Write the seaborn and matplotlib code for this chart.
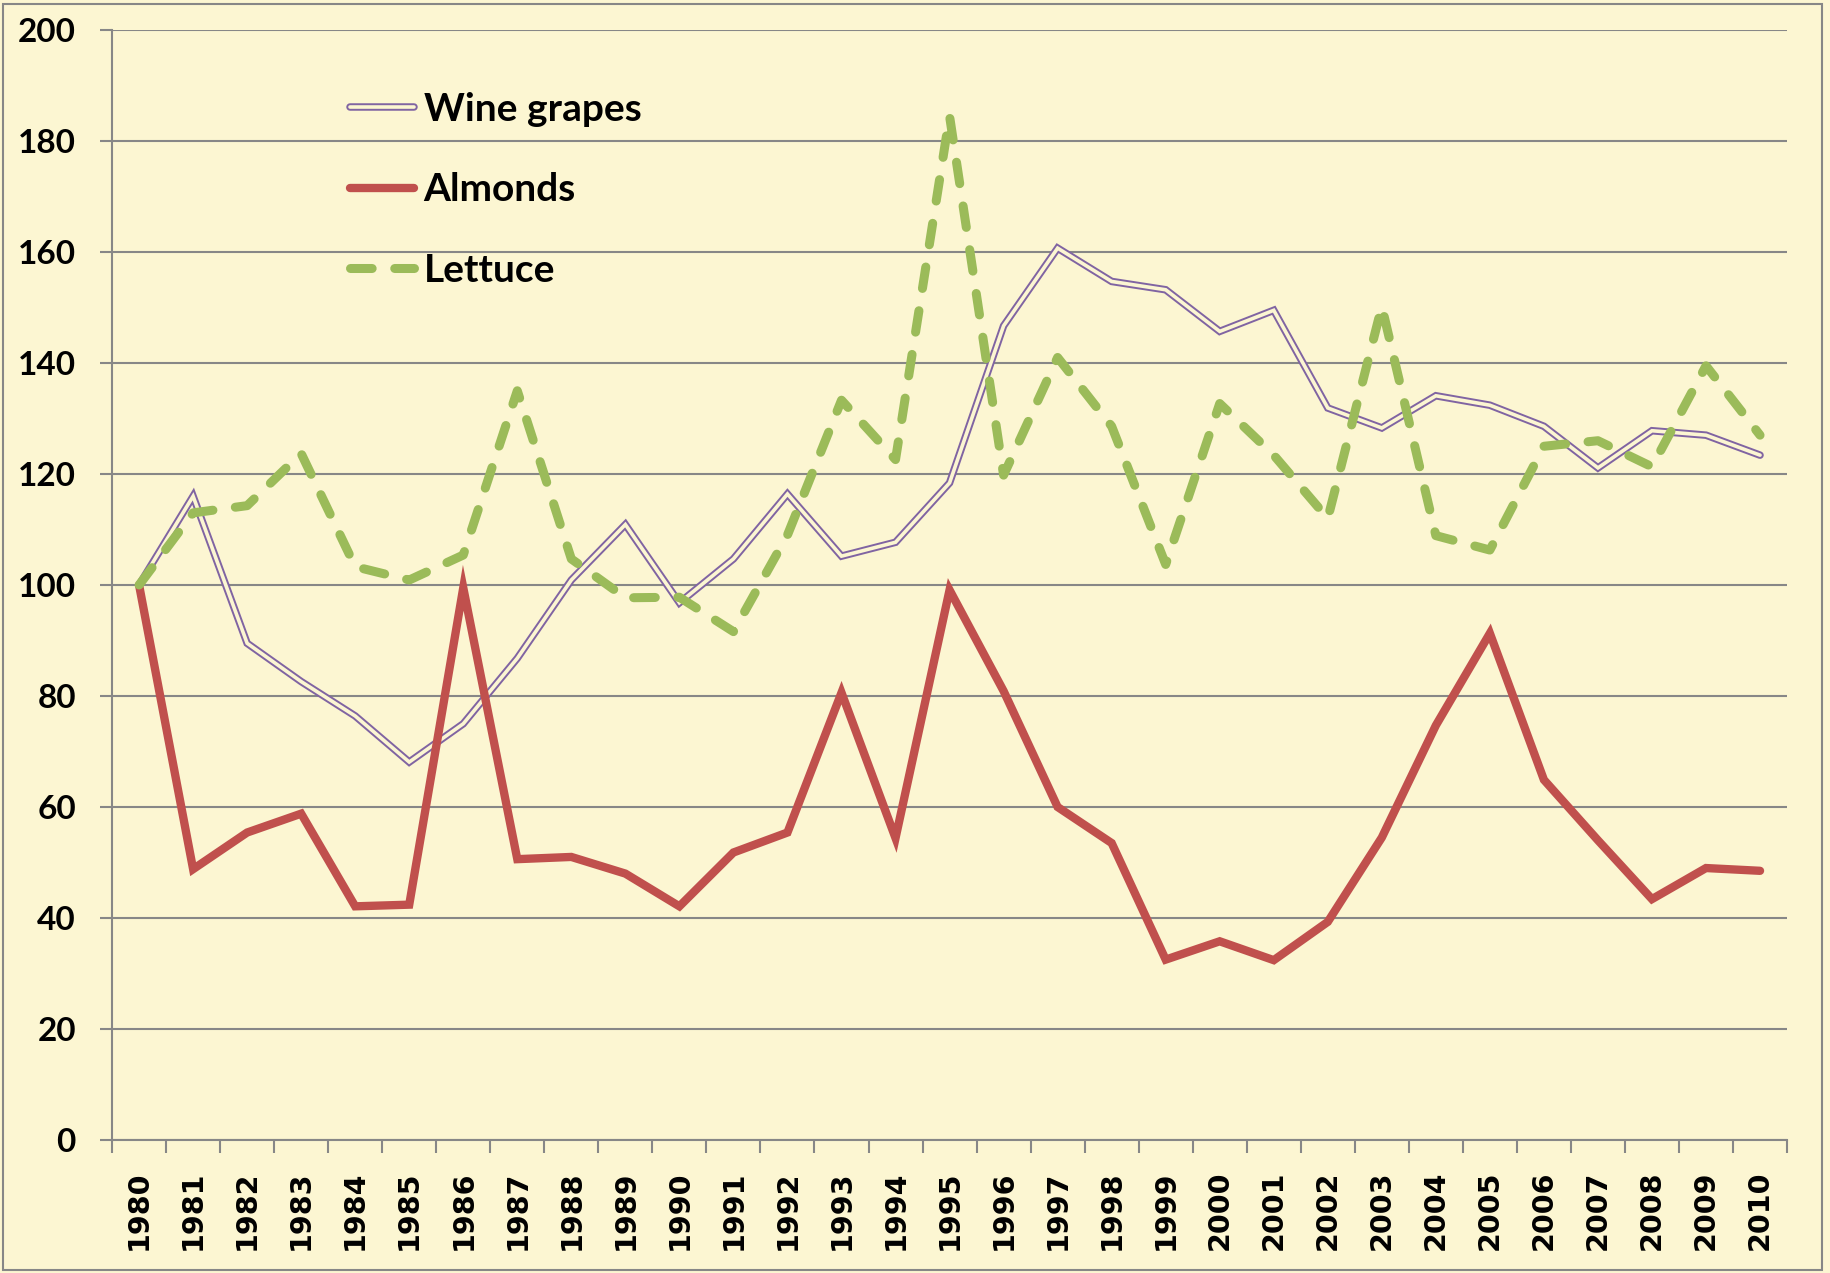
import numpy as np
import pandas as pd
import matplotlib
matplotlib.use("Agg")
import matplotlib.pyplot as plt
import seaborn as sns
from matplotlib.lines import Line2D
from matplotlib.legend_handler import HandlerTuple
from matplotlib.patches import Rectangle

years = list(range(1980, 2011))
wine_grapes = [100, 116, 89.5, 82.6, 76.4, 68.1, 75.0, 86.8, 100.9, 110.9, 96.8,
               104.7, 116.4, 105.2, 107.7, 118.4, 146.7, 160.7, 154.7, 153.2, 145.7,
               149.5, 131.9, 128.3, 134.1, 132.4, 128.6, 121.1, 127.8, 127.0, 123.4]
almonds = [100, 48.8, 55.4, 58.8, 42.1, 42.4, 99.5, 50.6, 51.0, 48.0, 42.1,
           51.8, 55.4, 80.6, 54.4, 99.1, 80.9, 60.0, 53.5, 32.5, 35.8,
           32.4, 39.3, 54.5, 74.7, 91.3, 64.9, 54.0, 43.4, 49.0, 48.5]
lettuce = [100, 113.0, 114.3, 123.7, 103.3, 100.9, 105.4, 135.0, 104.7, 97.7, 97.8,
           91.6, 109.0, 133.3, 122.6, 184.5, 119.8, 141.0, 128.6, 103.7, 132.7,
           123.4, 112.0, 150.2, 108.9, 106.3, 125.0, 126.0, 121.3, 139.5, 127.0]
series_names = ["Wine grapes", "Almonds", "Lettuce"]
y_ticks = list(range(0, 201, 20))

BG = "#FCF6D2"
PURPLE = "#8064A2"
RED = "#C0504D"
GREEN = "#9BBB59"
GRID = "#878787"

df = pd.DataFrame({"year": years, "Wine grapes": wine_grapes,
                   "Almonds": almonds, "Lettuce": lettuce})

sns.set_theme(style="white")
plt.rcParams["font.family"] = ["Lato", "DejaVu Sans"]

fig = plt.figure(figsize=(18.31, 12.73), dpi=100, facecolor=BG)
ax = fig.add_axes([0.0612, 0.1045, 0.9148, 0.8719])
ax.set_facecolor(BG)

# Wine grapes: double line (outer purple, inner cream)
sns.lineplot(data=df, x="year", y="Wine grapes", ax=ax, color=PURPLE, lw=5.4,
             solid_joinstyle="miter", legend=False, zorder=3)
sns.lineplot(data=df, x="year", y="Wine grapes", ax=ax, color=BG, lw=2.6,
             solid_joinstyle="miter", legend=False, zorder=3.1)
sns.lineplot(data=df, x="year", y="Almonds", ax=ax, color=RED, lw=6.0,
             solid_joinstyle="miter", solid_capstyle="round", legend=False, zorder=4)
sns.lineplot(data=df, x="year", y="Lettuce", ax=ax, color=GREEN, lw=6.5,
             linestyle=(0, (2.4, 2.5)), dash_capstyle="round", legend=False, zorder=5)

ax.set_xlim(years[0] - 0.5, years[-1] + 0.5)
ax.set_ylim(0, 200)
ax.set_yticks(y_ticks)
ax.set_yticklabels([str(t) for t in y_ticks], fontsize=24, fontweight="bold",
                   color="black")
ax.set_xticks(years)
ax.set_xticklabels([str(y) for y in years], rotation=90, fontsize=20.5,
                   fontweight="bold", family="DejaVu Sans", color="black")
ax.set_xticks([y - 0.5 for y in years] + [years[-1] + 0.5], minor=True)
ax.tick_params(axis="x", which="major", length=0, pad=22)
ax.tick_params(axis="x", which="minor", length=9, width=1.5, color=GRID,
               direction="out", bottom=True)
ax.tick_params(axis="y", which="major", length=9, width=1.5, color=GRID,
               direction="out", left=True, pad=17)
ax.set_xlabel("")
ax.set_ylabel("")
ax.grid(axis="y", color=GRID, lw=1.5)
ax.grid(axis="x", visible=False)
for s in ["top", "right"]:
    ax.spines[s].set_visible(False)
for s in ["left", "bottom"]:
    ax.spines[s].set_color(GRID)
    ax.spines[s].set_linewidth(1.5)
ax.set_axisbelow(True)

# Legend
h_wine = (Line2D([], [], color=PURPLE, lw=5.4, solid_capstyle="round"),
          Line2D([], [], color=BG, lw=2.6, solid_capstyle="round"))
h_alm = Line2D([], [], color=RED, lw=6.0, solid_capstyle="round")
h_let = Line2D([], [], color=GREEN, lw=6.5, linestyle=(0, (2.4, 2.5)),
               dash_capstyle="round")
leg = fig.legend([h_wine, h_alm, h_let], series_names,
                 handler_map={tuple: HandlerTuple(ndivide=1, pad=0)},
                 loc="center left", bbox_to_anchor=(0.191, 0.851),
                 frameon=False, prop={"family": "Lato", "weight": "bold", "size": 28},
                 labelcolor="black",
                 handlelength=1.65, handletextpad=0.25, labelspacing=1.17,
                 borderpad=0, borderaxespad=0)

fig.patches.append(Rectangle((0.0015, 0.002), 0.9935, 0.9945, transform=fig.transFigure,
                             fill=False, edgecolor=GRID, lw=1.5))

fig.savefig("out.png", dpi=100, facecolor=BG)
